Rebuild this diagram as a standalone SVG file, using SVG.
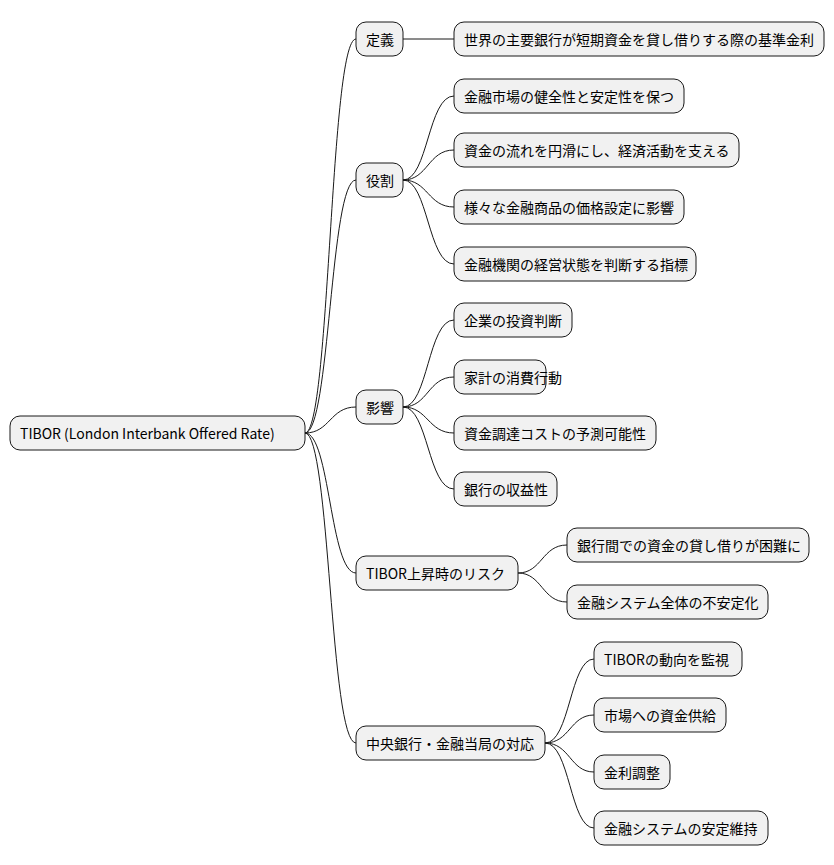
<svg xmlns="http://www.w3.org/2000/svg" width="834" height="865" viewBox="0 0 834 865">
<style>
rect{fill:#F1F1F1;stroke:#181818;stroke-width:1}
text{font-family:"Noto Sans CJK JP","Liberation Sans",sans-serif;font-size:14px;fill:#000;dominant-baseline:central}
#edges path{fill:none;stroke:#181818;stroke-width:1}
</style>
<rect x="0" y="0" width="834" height="865" style="fill:#fff;stroke:none"/>
<g id="edges">
<path d="M305,433 C330,433 330,39 356,39"/>
<path d="M305,433 C330,433 330,180 356,180"/>
<path d="M305,433 C330,433 330,407 356,407"/>
<path d="M305,433 C330,433 330,573 356,573"/>
<path d="M305,433 C330,433 330,743 356,743"/>
<path d="M403,39 L454,39"/>
<path d="M403,180 C428,180 428,96 454,96"/>
<path d="M403,180 C428,180 428,150 454,150"/>
<path d="M403,180 C428,180 428,207 454,207"/>
<path d="M403,180 C428,180 428,264 454,264"/>
<path d="M403,407 C428,407 428,320 454,320"/>
<path d="M403,407 C428,407 428,377 454,377"/>
<path d="M403,407 C428,407 428,433 454,433"/>
<path d="M403,407 C428,407 428,489 454,489"/>
<path d="M518,573 C542,573 542,545 567,545"/>
<path d="M518,573 C542,573 542,602 567,602"/>
<path d="M545,743 C570,743 570,659 594,659"/>
<path d="M545,743 C570,743 570,715 594,715"/>
<path d="M545,743 C570,743 570,772 594,772"/>
<path d="M545,743 C570,743 570,828 594,828"/>
</g>
<g id="root"><rect x="10" y="416" width="295" height="34" rx="10"/><text x="20" y="433">TIBOR (London Interbank Offered Rate)</text></g>
<g id="n1"><rect x="356" y="22" width="47" height="34" rx="10"/><text x="366" y="39">定義</text></g>
<g id="n2"><rect x="356" y="163" width="47" height="34" rx="10"/><text x="366" y="180">役割</text></g>
<g id="n3"><rect x="356" y="390" width="47" height="34" rx="10"/><text x="366" y="407">影響</text></g>
<g id="n4"><rect x="356" y="556" width="162" height="34" rx="10"/><text x="366" y="573">TIBOR上昇時のリスク</text></g>
<g id="n5"><rect x="356" y="726" width="189" height="34" rx="10"/><text x="366" y="743">中央銀行・金融当局の対応</text></g>
<g id="n1a"><rect x="454" y="22" width="370" height="34" rx="10"/><text x="464" y="39">世界の主要銀行が短期資金を貸し借りする際の基準金利</text></g>
<g id="n2a"><rect x="454" y="79" width="230" height="34" rx="10"/><text x="464" y="96">金融市場の健全性と安定性を保つ</text></g>
<g id="n2b"><rect x="454" y="133" width="285" height="34" rx="10"/><text x="464" y="150">資金の流れを円滑にし、経済活動を支える</text></g>
<g id="n2c"><rect x="454" y="190" width="230" height="34" rx="10"/><text x="464" y="207">様々な金融商品の価格設定に影響</text></g>
<g id="n2d"><rect x="454" y="247" width="242" height="34" rx="10"/><text x="464" y="264">金融機関の経営状態を判断する指標</text></g>
<g id="n3a"><rect x="454" y="303" width="118" height="34" rx="10"/><text x="464" y="320">企業の投資判断</text></g>
<g id="n3b"><rect x="454" y="360" width="92" height="34" rx="10"/><text x="464" y="377">家計の消費行動</text></g>
<g id="n3c"><rect x="454" y="416" width="202" height="34" rx="10"/><text x="464" y="433">資金調達コストの予測可能性</text></g>
<g id="n3d"><rect x="454" y="472" width="103" height="34" rx="10"/><text x="464" y="489">銀行の収益性</text></g>
<g id="n4a"><rect x="567" y="528" width="242" height="34" rx="10"/><text x="577" y="545">銀行間での資金の貸し借りが困難に</text></g>
<g id="n4b"><rect x="567" y="585" width="201" height="34" rx="10"/><text x="577" y="602">金融システム全体の不安定化</text></g>
<g id="n5a"><rect x="594" y="642" width="148" height="34" rx="10"/><text x="604" y="659">TIBORの動向を監視</text></g>
<g id="n5b"><rect x="594" y="698" width="132" height="34" rx="10"/><text x="604" y="715">市場への資金供給</text></g>
<g id="n5c"><rect x="594" y="755" width="76" height="34" rx="10"/><text x="604" y="772">金利調整</text></g>
<g id="n5d"><rect x="594" y="811" width="174" height="34" rx="10"/><text x="604" y="828">金融システムの安定維持</text></g>
</svg>
